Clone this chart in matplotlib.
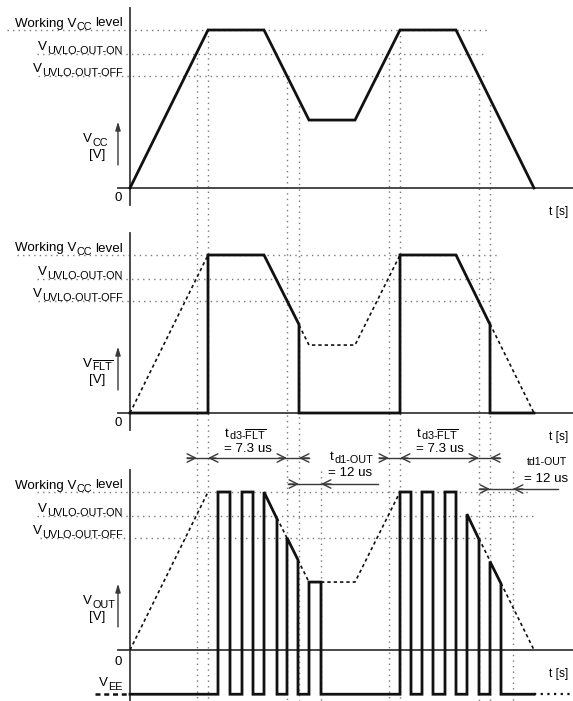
import numpy as np
import matplotlib.pyplot as plt

plt.rcParams["font.family"] = ["Liberation Sans", "DejaVu Sans"]
plt.rcParams["mathtext.fontset"] = "custom"
plt.rcParams["mathtext.rm"] = "Liberation Sans"
plt.rcParams["mathtext.it"] = "Liberation Sans:italic"
plt.rcParams["mathtext.bf"] = "Liberation Sans:bold"

# levels, normalised to the working Vcc level
V_WORK = 1.0
V_ON = 0.85
V_OFF = 0.71
V_EE = -0.28

# supply (time in arbitrary units)
vcc_t = [0, 78, 134, 179, 225, 270, 326, 404]
vcc_v = [0, 1.0, 1.0, 0.43, 0.43, 1.0, 1.0, 0]

# FLT pin
flt_t = [0, 78, 78, 134, 169, 169, 270, 270, 326, 360, 360, 404]
flt_v = [0, 0, 1.0, 1.0, 0.56, 0, 0, 1.0, 1.0, 0.56, 0, 0]

# output pulses: rise, fall, top value at rise, top value at fall
pulse_rise = [88, 112, 134, 157, 179, 270, 292, 315, 337, 360]
pulse_fall = [100, 123, 147, 168, 191, 281, 303, 326, 349, 371]
pulse_top0 = [1.0, 1.0, 1.0, 0.71, 0.43, 1.0, 1.0, 1.0, 0.86, 0.56]
pulse_top1 = [1.0, 1.0, 0.83, 0.57, 0.43, 1.0, 1.0, 1.0, 0.70, 0.42]

# event markers
t_marks = [67, 78, 157, 169, 259, 270, 349, 360]
t_d1_end = [191, 383]

# layout: 1 unit = 158 px, panel baselines
UNIT = 158
H = 701
base = [(H - 188) / UNIT, (H - 413) / UNIT, (H - 650) / UNIT]
PX = 1 / UNIT

BLACK = "#111111"
AX = "#3a3a3a"
GRID = "#7a7a7a"
FS = 9.6
SUB = 7.8
DROP = -2.4

fig = plt.figure(figsize=(5.73, 7.01), dpi=100)
ax = fig.add_axes([0, 0, 1, 1])
ax.set_xlim(-130, 443)
ax.set_ylim(0, H / UNIT)
ax.axis("off")

dotted = dict(color=GRID, lw=1.0, ls=(0, (1, 3)))
dashed = dict(color=BLACK, lw=1.2, ls=(0, (2, 1.8)))
solid = dict(color=BLACK, lw=2.0, solid_joinstyle="miter")


def vcc_piece(t0, t1):
    t = [t0] + [x for x in vcc_t if t0 < x < t1] + [t1]
    return t, np.interp(t, vcc_t, vcc_v)


def chain(x, y, parts, ha="right"):
    # parts: (string, fontsize, rise pt, gap pt before it), left to right
    prev = None
    if ha == "right":
        gap = 0
        for s, size, rise, g in reversed(parts):
            if prev is None:
                prev = ax.annotate(s, xy=(x, y), xytext=(0, rise), textcoords="offset points",
                                   ha="right", va="baseline", fontsize=size)
            else:
                prev = ax.annotate(s, xy=(0, y), xycoords=(prev, "data"), xytext=(-gap, rise),
                                   textcoords="offset points", ha="right", va="baseline",
                                   fontsize=size)
            gap = g
    else:
        for s, size, rise, g in parts:
            if prev is None:
                prev = ax.annotate(s, xy=(x, y), xytext=(g, rise), textcoords="offset points",
                                   ha="left", va="baseline", fontsize=size)
            else:
                prev = ax.annotate(s, xy=(1, y), xycoords=(prev, "data"), xytext=(g, rise),
                                   textcoords="offset points", ha="left", va="baseline",
                                   fontsize=size)


FLT_BAR = r"$\overline{\mathregular{FLT}}$"
D3_FLT = r"$\mathregular{d3\text{-}}\overline{\mathregular{FLT}}$"

# guide lines
guide_rows = [
    [(V_WORK, -123, 357), (V_ON, -93, 357), (V_OFF, -92, 357)],
    [(V_WORK, -113, 368), (V_ON, -93, 368), (V_OFF, -92, 361)],
    [(V_WORK, -93, 401), (V_ON, -93, 403), (V_OFF, -90, 361)],
]
for p, rows in enumerate(guide_rows):
    for lev, x0, x1 in rows:
        ax.plot([x0, x1], [base[p] + lev] * 2, **dotted)

for tm in t_marks:
    top = base[0] + np.interp(tm, vcc_t, vcc_v)
    ax.plot([tm, tm], [top, 0], **dotted)
for tm in t_d1_end:
    ax.plot([tm, tm], [base[2] + 1.13, 0], **dotted)

# axes of the three panels
for p in range(3):
    bottom = base[p] - 0.108 if p < 2 else 0
    ax.plot([0, 0], [base[p] + 1.14, bottom], color=AX, lw=1.3)
    ax.plot([-12, 443], [base[p]] * 2, color=AX, lw=1.3)
    ax.annotate("", xy=(448, base[p] - 0.07), xytext=(406, base[p] - 0.07),
                arrowprops=dict(arrowstyle="-|>,head_length=0.5,head_width=0.15",
                                color=AX, lw=1.0, shrinkA=0, shrinkB=0))
    ax.text(429, base[p] - 0.155, "t [s]", fontsize=FS - 1, ha="center", va="center")
    ax.text(-12, base[p] - 0.062 - (0.012 if p == 2 else 0), "0", fontsize=FS,
            ha="center", va="center")

# level labels
level_parts = [
    [("Working V", FS, 0, 0), ("CC", SUB, DROP, 0.2), ("level", FS, 0, 2.4)],
    [("V", FS, 0, 0), ("UVLO-OUT-ON", SUB, DROP, 0.4)],
    [("V", FS, 0, 0), ("UVLO-OUT-OFF", SUB, DROP, 0.4)],
]
for p in range(3):
    for lev, parts in zip([V_WORK, V_ON, V_OFF], level_parts):
        chain(-7, base[p] + lev + 3.5 * PX, parts)

sig_parts = [
    [("V", FS, 0, 0), ("CC", SUB, DROP, 0.2)],
    [("V", FS, 0, 0), (FLT_BAR, SUB, DROP, 0)],
    [("V", FS, 0, 0), ("OUT", SUB, DROP, 0.2)],
]
for p, parts in enumerate(sig_parts):
    chain(-47, base[p] + 0.29, parts, ha="left")
    ax.text(-33, base[p] + 0.21, "[V]", fontsize=FS, ha="center", va="center")
    ax.annotate("", xy=(-12, base[p] + 0.42), xytext=(-12, base[p] + 0.146),
                arrowprops=dict(arrowstyle="-|>,head_length=0.5,head_width=0.15",
                                color=AX, lw=1.0, shrinkA=0, shrinkB=0))

chain(-7, base[2] + V_EE + 8 * PX, [("V", FS, 0, 0), ("EE", SUB, DROP, 0.2)])

# panel 1: Vcc
ax.plot(vcc_t, np.array(vcc_v) + base[0], **solid)

# panel 2: FLT
for t0, t1 in [(0, 78), (169, 270), (360, 404)]:
    t, v = vcc_piece(t0, t1)
    ax.plot(t, v + base[1], **dashed)
ax.plot(flt_t, np.array(flt_v) + base[1], **solid)

# panel 3: OUT
for t0, t1 in [(0, 78), (147, 157), (168, 179), (191, 270), (349, 360), (371, 404)]:
    t, v = vcc_piece(t0, t1)
    ax.plot(t, v + base[2], **dashed)
out_t, out_v = [0], [V_EE]
for r, f, a, b in zip(pulse_rise, pulse_fall, pulse_top0, pulse_top1):
    out_t += [r, r, f, f]
    out_v += [V_EE, a, b, V_EE]
out_t.append(404)
out_v.append(V_EE)
ax.plot(out_t, np.array(out_v) + base[2], **solid)
ax.plot([-35, 0], [base[2] + V_EE] * 2, color=BLACK, lw=1.8, ls=(0, (2, 1.5)))
ax.plot([404, 443], [base[2] + V_EE] * 2, color=BLACK, lw=1.6, ls=(0, (1, 2)))

# timing dimensions
head = "->,head_length=0.6,head_width=0.3"


def dim_line(x0, x1, y):
    ax.plot([x0, x1], [y, y], color=AX, lw=1.0)


def head_at(tip, tail, y):
    ax.annotate("", xy=(tip, y), xytext=(tail, y),
                arrowprops=dict(arrowstyle=head, color=AX, lw=1.0, shrinkA=0, shrinkB=0))


y_d3 = (H - 458) / UNIT
for k in range(2):
    a, b, c, d = t_marks[4 * k: 4 * k + 4]
    dim_line(a - 10, d + 10, y_d3)
    head_at(a, a - 10, y_d3)
    head_at(b, b + 8, y_d3)
    head_at(c, c - 8, y_d3)
    head_at(d, d + 10, y_d3)
    chain(b + 17, (H - 437) / UNIT, [("t", FS, 0, 0), (D3_FLT, SUB, DROP, 0.2)], ha="left")
    ax.text((b + c) / 2, y_d3 + 0.06, "= 7.3 us", fontsize=FS, ha="center", va="center")

y_d1 = [(H - 484) / UNIT, (H - 489) / UNIT]
for k in range(2):
    s, e = t_marks[4 * k + 3], t_d1_end[k]
    dim_line(s - 11, e + (57 if k == 0 else 45), y_d1[k])
    head_at(s, s - 10, y_d1[k])
    head_at(e, e + 10, y_d1[k])

chain(200, (H - 460) / UNIT, [("t", FS, 0, 0), ("d1-OUT", SUB, DROP, 0.2)], ha="left")
ax.text(220, (H - 473) / UNIT, "= 12 us", fontsize=FS, ha="center", va="center")
ax.text(417, (H - 462) / UNIT, "td1-OUT", fontsize=FS - 2, ha="center", va="center")
ax.text(416, (H - 479) / UNIT, "= 12 us", fontsize=FS, ha="center", va="center")

fig.savefig("out.png", dpi=100)
